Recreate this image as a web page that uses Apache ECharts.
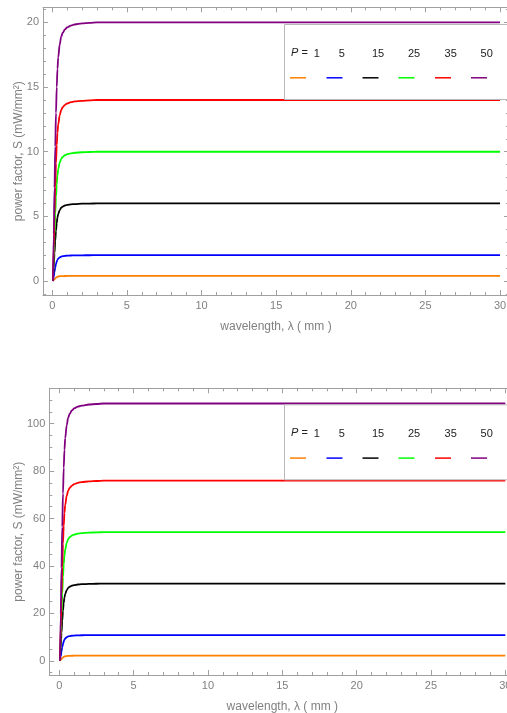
<!DOCTYPE html>
<html>
<head>
<meta charset="utf-8">
<script src="https://cdn.jsdelivr.net/npm/echarts@6/dist/echarts.min.js"></script>
<style>
html,body{margin:0;padding:0;background:#fff;}
#chart{width:507px;height:713px;}
</style>
</head>
<body>
<div id="chart"></div>
<script>
// ---------- data ----------
const pValues = [1, 5, 15, 25, 35, 50];
const seriesColors = ['#FF8000', '#0000FF', '#000000', '#00FF00', '#FF0000', '#800080'];
const wavelength = [0.05, 0.1, 0.15, 0.2, 0.25, 0.3, 0.35, 0.4, 0.5, 0.6, 0.7, 0.85, 1, 1.25, 1.5, 2, 2.5, 3, 30];

// top panel
const topP1  = [0, 0.07, 0.14, 0.21, 0.26, 0.3, 0.33, 0.35, 0.37, 0.38, 0.384, 0.389, 0.392, 0.395, 0.397, 0.398, 0.399, 0.4, 0.4];
const topP5  = [0, 0.36, 0.72, 1.04, 1.3, 1.5, 1.64, 1.73, 1.83, 1.89, 1.92, 1.95, 1.96, 1.975, 1.984, 1.992, 1.996, 2, 2];
const topP15 = [0, 1.08, 2.16, 3.12, 3.9, 4.5, 4.92, 5.19, 5.49, 5.67, 5.76, 5.84, 5.89, 5.93, 5.95, 5.98, 5.99, 6, 6];
const topP25 = [0, 1.8, 3.6, 5.2, 6.5, 7.5, 8.2, 8.65, 9.15, 9.45, 9.6, 9.73, 9.81, 9.88, 9.92, 9.96, 9.98, 10, 10];
const topP35 = [0, 2.52, 5.04, 7.28, 9.1, 10.5, 11.48, 12.11, 12.81, 13.23, 13.44, 13.62, 13.73, 13.83, 13.89, 13.94, 13.97, 14, 14];
const topP50 = [0, 3.6, 7.2, 10.4, 13, 15, 16.4, 17.3, 18.3, 18.9, 19.2, 19.46, 19.62, 19.76, 19.84, 19.92, 19.96, 20, 20];

// bottom panel
const botP1  = [0, 0.39, 0.78, 1.13, 1.41, 1.63, 1.78, 1.88, 1.99, 2.05, 2.08, 2.11, 2.13, 2.14, 2.15, 2.16, 2.17, 2.17, 2.17];
const botP5  = [0, 1.95, 3.91, 5.64, 7.05, 8.14, 8.9, 9.39, 9.93, 10.25, 10.42, 10.56, 10.64, 10.72, 10.76, 10.81, 10.83, 10.85, 10.85];
const botP15 = [0, 5.86, 11.72, 16.93, 21.16, 24.41, 26.69, 28.16, 29.78, 30.76, 31.25, 31.67, 31.93, 32.16, 32.29, 32.42, 32.48, 32.55, 32.55];
const botP25 = [0, 9.77, 19.53, 28.21, 35.26, 40.69, 44.49, 46.93, 49.64, 51.27, 52.08, 52.79, 53.22, 53.6, 53.82, 54.03, 54.14, 54.25, 54.25];
const botP35 = [0, 13.67, 27.34, 39.49, 49.37, 56.96, 62.28, 65.7, 69.49, 71.77, 72.91, 73.9, 74.51, 75.04, 75.34, 75.65, 75.8, 75.95, 75.95];
const botP50 = [0, 19.53, 39.06, 56.42, 70.53, 81.38, 88.97, 93.85, 99.28, 102.53, 104.16, 105.57, 106.44, 107.2, 107.63, 108.07, 108.28, 108.5, 108.5];

// tick labels
const xTicks = [0, 5, 10, 15, 20, 25, 30];
const topYTicks = [0, 5, 10, 15, 20];
const botYTicks = [0, 20, 40, 60, 80, 100];

const xName = 'wavelength, λ ( mm )';
const yName = 'power factor, S (mW/mm²)';

// ---------- build ----------
const frameColor = '#a0a0a0';
const labelColor = '#808080';
const font = 'Liberation Sans, Arial, sans-serif';

function range(a, b, step, skip) {
  const out = [];
  for (let v = a; v <= b + 1e-9; v += step) {
    const r = Math.round(v * 1000) / 1000;
    if (skip && Math.abs(r / skip - Math.round(r / skip)) < 1e-9) continue;
    out.push(r);
  }
  return out;
}

function makeAxes(dim, g, min, max, majors, minors, name, nameGap) {
  const base = {type: 'value', gridIndex: g, min: min, max: max, scale: true, splitLine: {show: false}, z: 1};
  const p1 = dim === 'x' ? 'bottom' : 'left';
  const p2 = dim === 'x' ? 'top' : 'right';
  return [
    Object.assign({}, base, {
      position: p1,
      axisLine: {show: true, onZero: false, lineStyle: {color: frameColor, width: 1}},
      axisTick: {show: true, inside: true, length: 5, customValues: majors, lineStyle: {color: frameColor}},
      axisLabel: {show: true, customValues: majors, color: labelColor, fontSize: 11, fontFamily: font, margin: dim === 'x' ? 5 : 4},
      name: name, nameLocation: 'middle', nameGap: nameGap, nameMoveOverlap: false,
      nameTextStyle: {color: labelColor, fontSize: 12, fontFamily: font}
    }),
    Object.assign({}, base, {
      position: p1,
      axisLine: {show: false, onZero: false},
      axisTick: {show: true, inside: true, length: 3, customValues: minors, lineStyle: {color: frameColor}},
      axisLabel: {show: false}
    }),
    Object.assign({}, base, {
      position: p2,
      axisLine: {show: true, onZero: false, lineStyle: {color: frameColor, width: 1}},
      axisTick: {show: true, inside: true, length: 5, customValues: majors, lineStyle: {color: frameColor}},
      axisLabel: {show: false}
    }),
    Object.assign({}, base, {
      position: p2,
      axisLine: {show: false, onZero: false},
      axisTick: {show: true, inside: true, length: 3, customValues: minors, lineStyle: {color: frameColor}},
      axisLabel: {show: false}
    })
  ];
}

const xAxes = [].concat(
  makeAxes('x', 0, -0.62, 30.6, xTicks, range(0, 30, 1, 5), xName, 26),
  makeAxes('x', 1, -0.67, 30.67, xTicks, range(0, 30, 1, 5), xName, 26)
);
const yAxes = [].concat(
  makeAxes('y', 0, -1.08, 21.17, topYTicks, range(-1, 21, 1, 5), yName, 18),
  makeAxes('y', 1, -6.0, 114.9, botYTicks, range(-5, 110, 5, 20), yName, 25)
);

const topData = [topP1, topP5, topP15, topP25, topP35, topP50];
const botData = [botP1, botP5, botP15, botP25, botP35, botP50];

const series = [];
[topData, botData].forEach(function (set, g) {
  set.forEach(function (vals, i) {
    series.push({
      type: 'line',
      name: 'P=' + pValues[i],
      xAxisIndex: g * 4,
      yAxisIndex: g * 4,
      data: wavelength.map(function (w, k) { return [w, vals[k]]; }),
      showSymbol: false,
      symbol: 'none',
      smooth: 0.35,
      smoothMonotone: 'x',
      clip: true,
      lineStyle: {color: seriesColors[i], width: 1.8},
      z: 3
    });
  });
});

function legendGraphic(top) {
  const els = [];
  els.push({type: 'rect', left: 284, top: top, shape: {width: 240, height: 75},
    style: {fill: '#fff', stroke: '#b8b8b8', lineWidth: 1}, z: 10});
  els.push({type: 'text', left: 291, top: top + 23.5,
    style: {text: '{i|P} =', rich: {i: {fontStyle: 'italic', fontSize: 11, fontFamily: font, fill: '#222'}},
      fontSize: 11, fontFamily: font, fill: '#222'}, z: 11});
  const textX = [316.7, 341.7, 378, 414, 450.7, 486.7];
  const lineX = [290, 326.5, 362.5, 398.5, 435, 471];
  pValues.forEach(function (p, i) {
    els.push({type: 'text', x: textX[i], y: top + 29.5,
      style: {text: String(p), fontSize: 11, fontFamily: font, fill: '#222', align: 'center', verticalAlign: 'middle'}, z: 11});
    els.push({type: 'line', shape: {x1: lineX[i], y1: top + 53.8, x2: lineX[i] + 16, y2: top + 53.8},
      style: {stroke: seriesColors[i], lineWidth: 1.5}, z: 11});
  });
  return els;
}

const chart = echarts.init(document.getElementById('chart'), null, {renderer: 'canvas'});
chart.setOption({
  animation: false,
  backgroundColor: '#fff',
  grid: [
    {left: 43, top: 7.3, width: 466, height: 287.7, containLabel: false, outerBoundsMode: 'none'},
    {left: 49.3, top: 388.3, width: 466, height: 286.7, containLabel: false, outerBoundsMode: 'none'}
  ],
  xAxis: xAxes,
  yAxis: yAxes,
  series: series,
  graphic: legendGraphic(24).concat(legendGraphic(404.3))
});
</script>
</body>
</html>
